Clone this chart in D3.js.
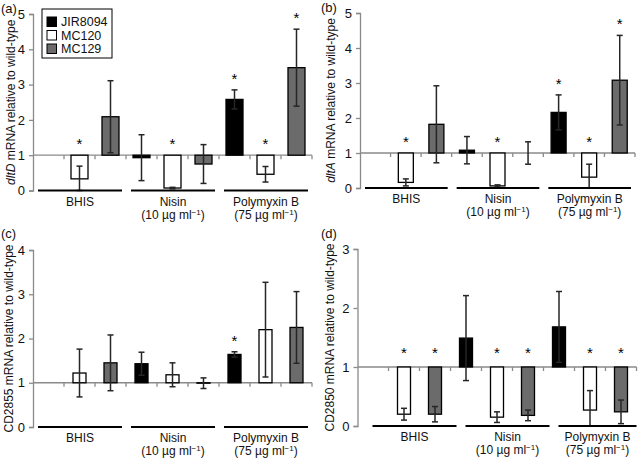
<!DOCTYPE html>
<html><head><meta charset="utf-8">
<script src="https://cdn.jsdelivr.net/npm/d3@7"></script>
<style>
body{margin:0;background:#fff}
svg{display:block;font-family:"Liberation Sans",Arial,Helvetica,sans-serif}
</style>
</head><body><svg id="chart" width="643" height="460"></svg>
<script>
// ---- data ----
const groups = ["BHIS", "Nisin", "Polymyxin B"];
const groupDose = ["", "(10 µg ml", "(75 µg ml"];
const strains = ["JIR8094", "MC120", "MC129"];
const strainColors = ["#000000", "#ffffff", "#6b6b6b"];

// order: BHIS(JIR8094, MC120, MC129), Nisin(...), Polymyxin B(...)
const dltDMean = [null, 0.33, 2.09, 0.93, 0.07, 0.75, 2.58, 0.46, 3.48];
const dltDErr  = [null, 0.36, 1.02, 0.65, 0.02, 0.55, 0.27, 0.22, 1.09];
const dltDSig  = [0, 1, 0, 0, 1, 0, 1, 1, 1];

const dltAMean = [null, 0.16, 1.82, 1.08, 0.06, 1.00, 2.16, 0.31, 3.08];
const dltAErr  = [null, 0.10, 1.10, 0.39, 0.03, 0.32, 0.50, 0.37, 1.28];
const dltASig  = [0, 1, 0, 0, 1, 0, 1, 1, 1];

const cd2855Mean = [null, 1.22, 1.45, 1.43, 1.18, 0.99, 1.64, 2.20, 2.25];
const cd2855Err  = [null, 0.54, 0.63, 0.26, 0.27, 0.12, 0.06, 1.07, 0.81];
const cd2855Sig  = [0, 0, 0, 0, 0, 0, 1, 0, 0];

const cd2850Mean = [null, 0.20, 0.20, 1.49, 0.15, 0.18, 1.68, 0.27, 0.24];
const cd2850Err  = [null, 0.10, 0.13, 0.72, 0.09, 0.09, 0.60, 0.33, 0.20];
const cd2850Sig  = [0, 1, 1, 0, 1, 1, 0, 1, 1];

// ---- layout ----
const panels = [
  {tag:"(a)", gene:"dltD", italic:true, mean:dltDMean, err:dltDErr, sig:dltDSig, yMax:5,
   left:33, right:312, top:14, bottom:190.5, tagX:1, tagY:13, titleX:14.5, legend:true, lineShift:0, barW:17, starGap:14},
  {tag:"(b)", gene:"dltA", italic:true, mean:dltAMean, err:dltAErr, sig:dltASig, yMax:5,
   left:360, right:635, top:13, bottom:188, tagX:321, tagY:12, titleX:334.5, legend:false, lineShift:0, barW:15, starGap:14},
  {tag:"(c)", gene:"CD2855", italic:false, mean:cd2855Mean, err:cd2855Err, sig:cd2855Sig, yMax:4,
   left:33, right:312, top:250, bottom:427, tagX:1, tagY:238, titleX:12.5, legend:false, lineShift:0, barW:13, starGap:14},
  {tag:"(d)", gene:"CD2850", italic:false, mean:cd2850Mean, err:cd2850Err, sig:cd2850Sig, yMax:3,
   left:357.5, right:636.5, top:249, bottom:426, tagX:321, tagY:238, titleX:334, legend:false, lineShift:10, barW:13, starGap:17}
];

const svg = d3.select("#chart");
const axisColor = "#8a8a8a";
const errColor = "#262626";

panels.forEach(p => {
  const g = svg.append("g");
  const slot = d3.scaleBand().domain(d3.range(9)).range([p.left, p.right]).padding(0);
  const bw = slot.bandwidth();
  const y = d3.scaleLinear().domain([0, p.yMax]).range([p.bottom, p.top]);

  // panel tag
  g.append("text").attr("x", p.tagX).attr("y", p.tagY).attr("font-size", 13).attr("fill", "#111").text(p.tag);

  // y axis
  const yAxis = d3.axisLeft(y).ticks(p.yMax).tickSize(4).tickPadding(4).tickFormat(d3.format("d"));
  const ya = g.append("g").attr("transform", `translate(${p.left},0)`).call(yAxis);
  ya.select(".domain").attr("stroke", axisColor).attr("stroke-width", 1.3);
  ya.selectAll(".tick line").attr("stroke", axisColor).attr("stroke-width", 1.3);
  ya.selectAll(".tick text").attr("font-size", 13).attr("fill", "#111").attr("font-family", "Liberation Sans, Arial, sans-serif");

  // y title
  const tt = g.append("text")
    .attr("transform", `translate(${p.titleX},${(p.top + p.bottom) / 2}) rotate(-90)`)
    .attr("text-anchor", "middle").attr("font-size", 12).attr("fill", "#111");
  tt.append("tspan").attr("font-style", p.italic ? "italic" : "normal").text(p.gene);
  tt.append("tspan").text(" mRNA relative to wild-type");

  // reference line at 1 with slot ticks
  const y1 = y(1);
  g.append("line").attr("x1", p.left).attr("x2", p.right).attr("y1", y1).attr("y2", y1)
    .attr("stroke", axisColor).attr("stroke-width", 1.3);
  g.selectAll(".slotTick").data(d3.range(1, 10)).enter().append("line")
    .attr("x1", i => i < 9 ? slot(i) : p.right).attr("x2", i => i < 9 ? slot(i) : p.right)
    .attr("y1", y1).attr("y2", y1 + 4).attr("stroke", axisColor).attr("stroke-width", 1.3);

  // bars
  const items = p.mean.map((m, i) => ({i, m, e: p.err[i], s: p.sig[i], k: i % 3})).filter(d => d.m !== null);
  g.selectAll(".bar").data(items).enter().append("rect")
    .attr("x", d => slot(d.i) + (bw - p.barW) / 2)
    .attr("width", p.barW)
    .attr("y", d => Math.min(y(d.m), y1))
    .attr("height", d => Math.abs(y(d.m) - y1))
    .attr("fill", d => strainColors[d.k])
    .attr("stroke", "#000").attr("stroke-width", 1.3);

  // error bars
  const capW = 3;
  items.forEach(d => {
    const cx = slot(d.i) + bw / 2;
    const lo = Math.max(0, d.m - d.e), hi = d.m + d.e;
    const eg = g.append("g").attr("stroke", errColor).attr("stroke-width", 1.5);
    eg.append("line").attr("x1", cx).attr("x2", cx).attr("y1", y(lo)).attr("y2", y(hi));
    eg.append("line").attr("x1", cx - capW).attr("x2", cx + capW).attr("y1", y(lo)).attr("y2", y(lo));
    eg.append("line").attr("x1", cx - capW).attr("x2", cx + capW).attr("y1", y(hi)).attr("y2", y(hi));
  });

  // significance stars
  g.selectAll(".star").data(items.filter(d => d.s)).enter().append("text")
    .attr("x", d => slot(d.i) + bw / 2)
    .attr("y", d => y(Math.max(1, d.m > 1 ? d.m + d.e : 1)) - p.starGap + 8)
    .attr("text-anchor", "middle").attr("font-size", 15).attr("fill", "#000").text("*");

  // group baselines and labels
  groups.forEach((name, gi) => {
    const x1 = slot(gi * 3) + 5 + p.lineShift;
    const x2 = Math.min(slot(gi * 3 + 2) + bw - 4 + p.lineShift, p.right);
    g.append("line").attr("x1", x1).attr("x2", x2).attr("y1", y(0)).attr("y2", y(0))
      .attr("stroke", "#000").attr("stroke-width", 2);
    const cx = (x1 + x2) / 2;
    g.append("text").attr("x", cx).attr("y", y(0) + 15).attr("text-anchor", "middle")
      .attr("font-size", 12).attr("fill", "#111").text(name);
    if (groupDose[gi]) {
      const t2 = g.append("text").attr("x", cx).attr("y", y(0) + 28).attr("text-anchor", "middle")
        .attr("font-size", 12).attr("fill", "#111");
      t2.append("tspan").text(groupDose[gi]);
      t2.append("tspan").attr("font-size", 8).attr("dy", -4).text("\u22121");
      t2.append("tspan").attr("dy", 4).text(")");
    }
  });

  // legend
  if (p.legend) {
    const lg = g.append("g").attr("transform", "translate(42,9)");
    lg.append("rect").attr("width", 70).attr("height", 49).attr("fill", "#fff").attr("stroke", "#000").attr("stroke-width", 1);
    strains.forEach((s, k) => {
      const row = lg.append("g").attr("transform", `translate(5,${8 + k * 13.5})`);
      row.append("rect").attr("width", 9.5).attr("height", 9.5).attr("fill", strainColors[k]).attr("stroke", "#000").attr("stroke-width", 1);
      row.append("text").attr("x", 14).attr("y", 9).attr("font-size", 12.5).attr("fill", "#111").text(s);
    });
  }
});
</script>
</body></html>
